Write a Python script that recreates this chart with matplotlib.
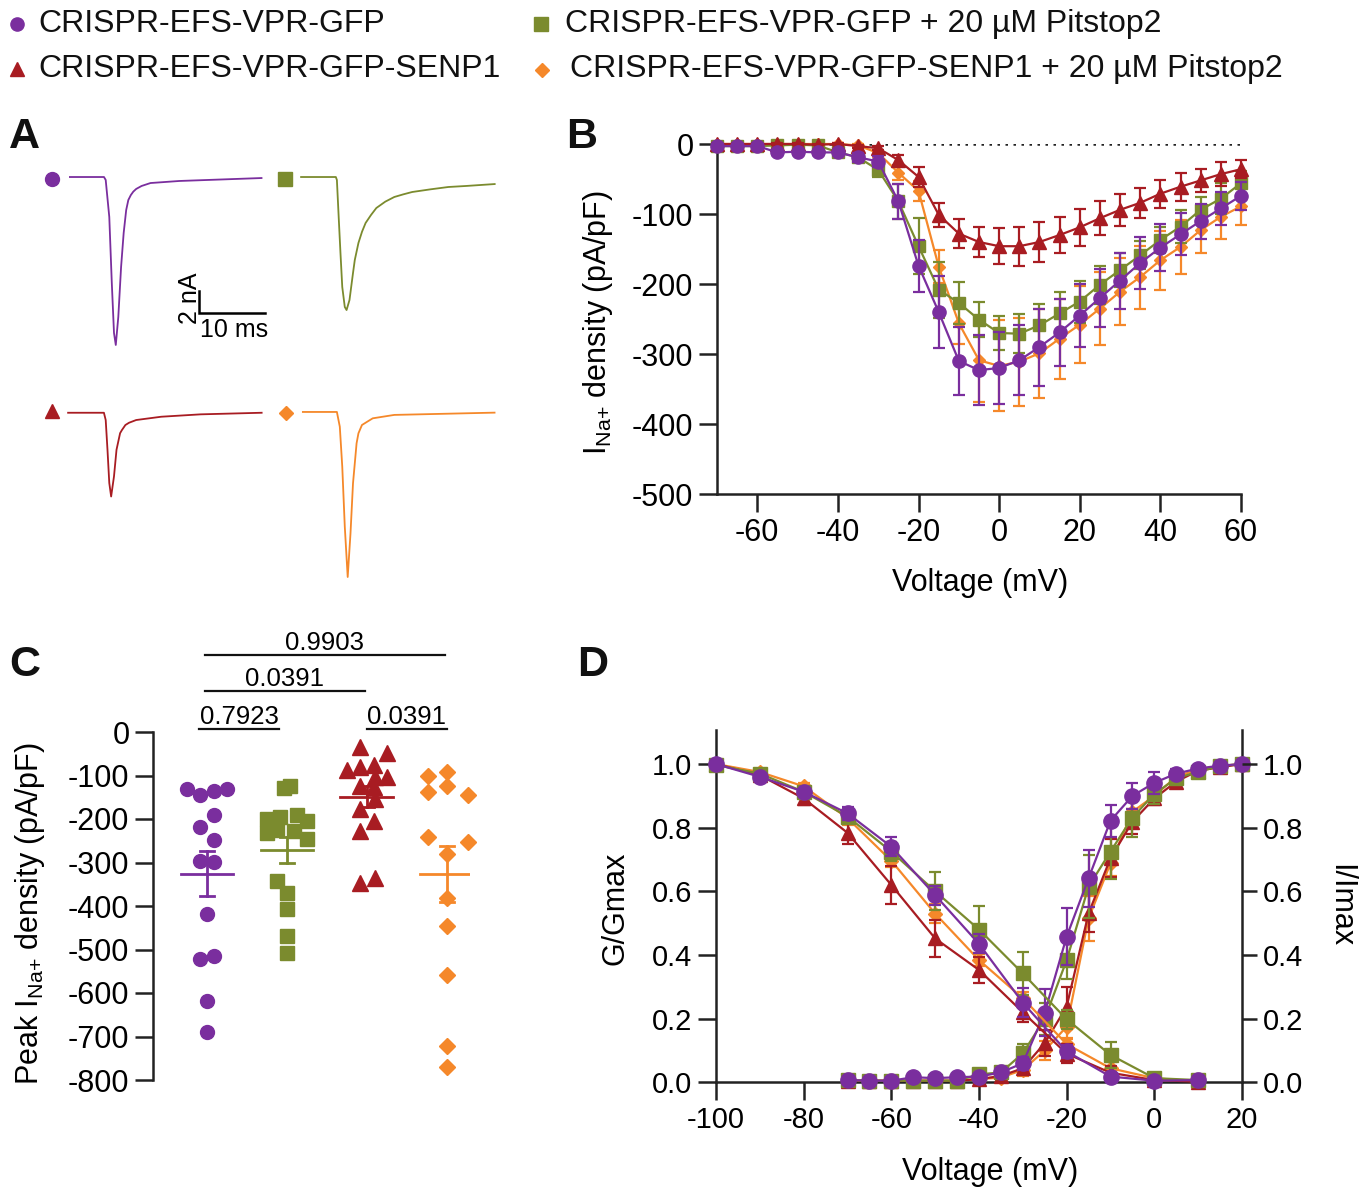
import numpy as np
import matplotlib
matplotlib.use("Agg")
import matplotlib.pyplot as plt
from matplotlib.lines import Line2D
from matplotlib.ticker import FormatStrFormatter

plt.rcParams['font.family'] = ['Liberation Sans', 'DejaVu Sans']
plt.rcParams['mathtext.default'] = 'regular'
plt.rcParams['axes.unicode_minus'] = False

# ---------------- groups ----------------
group_names = ["CRISPR-EFS-VPR-GFP",
               "CRISPR-EFS-VPR-GFP + 20 µM Pitstop2",
               "CRISPR-EFS-VPR-GFP-SENP1",
               "CRISPR-EFS-VPR-GFP-SENP1 + 20 µM Pitstop2"]
group_colors = ['#7A2E9E', '#7B8B2E', '#A81C22', '#F5882A']
group_markers = ['o', 's', '^', 'D']

# ---------------- panel A: representative traces (ms, nA) ----------------
trace_t_gfp = [0, 5.14, 5.40, 5.94, 6.32, 6.65, 6.92, 7.30, 7.72, 8.11, 8.49, 8.81, 9.19, 9.56, 10.0,
               10.81, 12.16, 16.49, 28.9]
trace_i_gfp = [0, 0, -0.26, -3.52, -9.34, -13.74, -14.80, -12.33, -7.93, -4.93, -2.91, -2.03, -1.59, -1.29,
               -1.05, -0.79, -0.53, -0.35, -0.09]
trace_t_pit = [0, 5.24, 5.40, 5.67, 5.94, 6.21, 6.59, 6.86, 7.30, 7.83, 8.10, 8.65, 9.19, 9.73, 10.54,
               11.35, 12.70, 14.06, 15.40, 16.76, 19.46, 22.2, 24.86, 29.2]
trace_i_pit = [0, 0, -0.26, -3.52, -6.70, -9.69, -11.45, -11.72, -10.84, -8.46, -7.31, -5.81, -4.82, -4.05,
               -3.35, -2.73, -2.17, -1.76, -1.53, -1.32, -1.09, -0.88, -0.79, -0.62]
trace_t_senp = [0, 5.40, 5.67, 5.94, 6.21, 6.49, 6.92, 7.30, 7.84, 8.11, 8.64, 9.19, 10.27, 14.06, 20.0, 29.19]
trace_i_senp = [0, 0, -0.64, -3.28, -6.19, -7.38, -5.61, -3.26, -1.80, -1.53, -1.08, -0.88, -0.64, -0.35,
                -0.14, 0]
trace_t_senppit = [0, 5.13, 5.57, 5.94, 6.32, 6.76, 7.18, 7.56, 8.10, 8.38, 8.91, 9.73, 10.54, 13.79, 28.91]
trace_i_senppit = [0, 0, -1.30, -4.82, -10.1, -14.54, -10.72, -6.29, -2.76, -1.88, -1.15, -0.85, -0.56,
                   -0.26, -0.06]
scalebar_ms = 10
scalebar_na = 2

# ---------------- panel B: I-V (pA/pF) ----------------
iv_v = [-70, -65, -60, -55, -50, -45, -40, -35, -30, -25, -20, -15, -10, -5, 0,
        5, 10, 15, 20, 25, 30, 35, 40, 45, 50, 55, 60]
iv_gfp = [-3, -3, -3, -12, -11, -12, -12, -19, -25, -82, -174, -240, -310, -323, -320,
          -309, -290, -269, -245, -220, -195, -170, -148, -129, -110, -92, -74]
iv_gfp_err = [2, 2, 2, 3, 3, 4, 4, 6, 8, 25, 37, 52, 48, 50, 52,
              50, 55, 48, 45, 41, 40, 37, 34, 30, 25, 24, 20]
iv_pit = [-3, -3, -3, -2, -1, -2, -12, -19, -37, -82, -146, -208, -227, -251, -270,
          -271, -259, -242, -225, -201, -180, -159, -137, -118, -94, -78, -56]
iv_pit_err = [2, 2, 2, 2, 2, 2, 4, 6, 10, 25, 40, 40, 30, 25, 24,
              28, 30, 30, 30, 27, 24, 20, 19, 24, 19, 22, 17]
iv_senp = [0, 0, 0, 0, 0, -1, 0, -3, -6, -23, -47, -101, -128, -140, -146,
           -146, -140, -130, -119, -106, -94, -84, -71, -61, -52, -43, -36]
iv_senp_err = [1, 1, 1, 1, 1, 1, 1, 2, 3, 7, 14, 17, 21, 22, 26,
               28, 28, 26, 26, 24, 23, 21, 20, 20, 17, 17, 13]
iv_senppit = [0, 0, 0, 0, 0, 0, 0, -2, -13, -41, -67, -175, -256, -309, -317,
              -311, -299, -278, -258, -235, -211, -190, -166, -147, -123, -104, -89]
iv_senppit_err = [1, 1, 1, 1, 1, 1, 1, 2, 5, 10, 14, 24, 30, 60, 65,
                  63, 64, 57, 55, 52, 48, 45, 42, 38, 33, 31, 26]

# ---------------- panel C: peak density per cell (pA/pF) ----------------
peak_gfp = [-131, -145, -135, -131, -190, -219, -248, -296, -298, -419, -521, -515, -619, -690]
peak_pit = [-129, -125, -200, -195, -190, -205, -232, -226, -228, -246, -342, -369, -408, -469, -508]
peak_senp = [-35, -48, -88, -81, -75, -104, -104, -123, -127, -154, -177, -204, -227, -346, -335]
peak_senppit = [-102, -91, -137, -125, -144, -242, -252, -281, -381, -445, -559, -721, -769]
# horizontal scatter (swarm) offsets, in category units
jit_gfp = [-0.25, -0.083, 0.083, 0.25, 0.083, -0.083, 0.083, -0.083, 0.083, 0, -0.083, 0.083, 0, 0]
jit_pit = [-0.04, 0.04, -0.25, -0.083, 0.125, 0.25, -0.25, -0.125, 0.083, 0.25, -0.125, 0, 0, 0, 0]
jit_senp = [-0.083, 0.25, -0.25, -0.083, 0.083, 0.104, 0.25, -0.083, 0.083, 0.104, -0.083, 0.083, -0.083, -0.083, 0.104]
jit_senppit = [-0.24, 0, -0.24, 0, 0.26, -0.24, 0.26, 0, 0, 0, 0, 0, 0]
p_labels = ['0.7923', '0.0391', '0.0391', '0.9903']
p_pairs = [(0, 1), (2, 3), (0, 2), (0, 3)]

# ---------------- panel D: activation / inactivation ----------------
inact_v = [-100, -90, -80, -70, -60, -50, -40, -30, -20, -10, 0, 10]
inact_gfp = [1.0, 0.96, 0.913, 0.845, 0.74, 0.588, 0.435, 0.25, 0.097, 0.018, 0.005, 0.007]
inact_gfp_err = [0, 0.01, 0.01, 0.02, 0.03, 0.03, 0.03, 0.045, 0.02, 0.01, 0.005, 0.005]
inact_pit = [0.997, 0.97, 0.913, 0.835, 0.725, 0.6, 0.48, 0.342, 0.198, 0.086, 0.013, 0.007]
inact_pit_err = [0, 0.01, 0.015, 0.02, 0.03, 0.06, 0.075, 0.067, 0.03, 0.04, 0.01, 0.005]
inact_senp = [1.0, 0.965, 0.892, 0.784, 0.62, 0.452, 0.353, 0.22, 0.09, 0.03, 0.007, 0.002]
inact_senp_err = [0, 0.01, 0.02, 0.035, 0.06, 0.058, 0.04, 0.03, 0.03, 0.02, 0.005, 0.002]
inact_senppit = [1.0, 0.975, 0.93, 0.83, 0.696, 0.53, 0.384, 0.264, 0.12, 0.044, 0.013, 0.002]
inact_senppit_err = [0, 0.01, 0.01, 0.02, 0.02, 0.03, 0.02, 0.02, 0.02, 0.02, 0.01, 0.002]

act_v = [-70, -65, -60, -55, -50, -45, -40, -35, -30, -25, -20, -15, -10, -5, 0, 5, 10, 15, 20]
act_gfp = [0.007, 0.005, 0.005, 0.016, 0.013, 0.016, 0.018, 0.031, 0.06, 0.219, 0.458, 0.641,
           0.822, 0.9, 0.941, 0.97, 0.986, 0.995, 1.0]
act_gfp_err = [0.005, 0.005, 0.005, 0.005, 0.005, 0.005, 0.008, 0.01, 0.02, 0.075, 0.09, 0.09,
               0.05, 0.04, 0.035, 0.015, 0.01, 0.005, 0]
act_pit = [0.007, 0.005, 0.005, 0.005, 0.005, 0.005, 0.025, 0.031, 0.091, 0.2, 0.384, 0.615,
           0.725, 0.832, 0.906, 0.955, 0.976, 0.994, 1.0]
act_pit_err = [0.005, 0.005, 0.005, 0.005, 0.005, 0.005, 0.01, 0.01, 0.03, 0.05, 0.06, 0.1,
               0.085, 0.06, 0.03, 0.015, 0.01, 0.005, 0]
act_senp = [0.005, 0.005, 0.005, 0.005, 0.005, 0.005, 0.01, 0.02, 0.044, 0.123, 0.238, 0.531,
            0.704, 0.819, 0.892, 0.945, 0.979, 0.99, 1.0]
act_senp_err = [0.005, 0.005, 0.005, 0.005, 0.005, 0.005, 0.01, 0.01, 0.02, 0.04, 0.06, 0.06,
                0.06, 0.04, 0.02, 0.015, 0.01, 0.005, 0]
act_senppit = [0.005, 0.005, 0.005, 0.005, 0.005, 0.005, 0.01, 0.015, 0.039, 0.1, 0.175, 0.515,
               0.688, 0.85, 0.9, 0.96, 0.983, 0.994, 1.0]
act_senppit_err = [0.005, 0.005, 0.005, 0.005, 0.005, 0.005, 0.01, 0.01, 0.02, 0.03, 0.04, 0.07,
                   0.04, 0.03, 0.02, 0.01, 0.01, 0.005, 0]

# ---------------- figure ----------------
W, H = 1368, 1193
fig = plt.figure(figsize=(W / 100, H / 100), dpi=100)


def fx(x):
    return x / W


def fy(y):
    return 1 - y / H


TICK = dict(direction='out', length=13, width=1.8, labelsize=22, pad=4, color='#222222')
LW = 1.8
SUB = r'$I_{Na{+}}$'

# legend (top)
leg_pos = [(17, 24, 38, 32), (541, 24, 565, 32), (17, 69, 38, 77), (542, 70, 570, 77)]
leg_ms = [9.5, 10.5, 10.5, 7.5]
for k in range(4):
    mx, my, tx, ty = leg_pos[k]
    fig.add_artist(Line2D([fx(mx)], [fy(my)], transform=fig.transFigure, marker=group_markers[k],
                          ms=leg_ms[k], color=group_colors[k], mec=group_colors[k], ls='none'))
    fig.text(fx(tx), fy(ty), group_names[k], fontsize=23, va='baseline', ha='left', color='#111111')

# panel letters
for letter, (lx, ly) in zip('ABCD', [(9, 148), (566, 148), (9, 676), (577, 676)]):
    fig.text(fx(lx), fy(ly), letter, fontsize=31, fontweight='bold', va='baseline', ha='left', color='#111111')

# ---------------- Panel A ----------------
PX_MS, PX_NA = 6.63, 11.35
axA = fig.add_axes([fx(40), fy(590), fx(480), 440 / H])
axA.set_xlim(0, 480 / PX_MS)
axA.set_ylim(-440 / PX_NA, 0)
axA.axis('off')
traces = [(trace_t_gfp, trace_i_gfp), (trace_t_pit, trace_i_pit),
          (trace_t_senp, trace_i_senp), (trace_t_senppit, trace_i_senppit)]
trace_origin = [(4.51, -2.38), (39.38, -2.38), (4.24, -23.15), (39.65, -23.08)]
trace_marker = [(1.81, -2.55), (36.95, -2.55), (1.81, -23.0), (37.06, -23.13)]
A_ms = [10, 10.5, 10.5, 7.5]
for k in range(4):
    t, i = traces[k]
    ox, oy = trace_origin[k]
    axA.plot(np.asarray(t) + ox, np.asarray(i) + oy, color=group_colors[k], lw=1.3,
             solid_joinstyle='round')
    mx, my = trace_marker[k]
    axA.plot([mx], [my], marker=group_markers[k], ms=A_ms[k], color=group_colors[k], ls='none')
# scale bar
sx, sy = 23.98, -14.39
axA.plot([sx, sx, sx + scalebar_ms], [sy + scalebar_na, sy, sy], color='black', lw=1.8,
         solid_joinstyle='miter')
axA.text(sx - 1.35, sy + scalebar_na / 2 + 0.3, f'{scalebar_na} nA', rotation=90, ha='center', va='center',
         fontsize=18)
axA.text(sx + scalebar_ms / 2 + 0.3, sy - 1.5, f'{scalebar_ms} ms', ha='center', va='center', fontsize=18)


def style_axes(ax):
    for s in ['top', 'right']:
        ax.spines[s].set_visible(False)
    for s in ['left', 'bottom']:
        ax.spines[s].set_linewidth(LW)
        ax.spines[s].set_color('#222222')
    ax.tick_params(**TICK)


def draw_series(ax, x, y, e, k, ms, z):
    eb = ax.errorbar(x, y, yerr=e, fmt='-', marker=group_markers[k], ms=ms, color=group_colors[k],
                     mfc=group_colors[k], mec=group_colors[k], lw=1.6, elinewidth=1.6, capsize=4.5,
                     capthick=1.6, zorder=z)
    for art in [eb.lines[0], *eb.lines[1], *eb.lines[2]]:
        art.set_clip_on(False)


# ---------------- Panel B ----------------
axB = fig.add_axes([fx(717), fy(494), fx(524), 350 / H])
style_axes(axB)
axB.set_xlim(-70, 60)
axB.set_ylim(-500, 0)
axB.set_xticks([-60, -40, -20, 0, 20, 40, 60])
axB.set_yticks([0, -100, -200, -300, -400, -500])
axB.plot([-70, 60], [0, 0], color='#222222', lw=1.8, ls=(0, (1, 2.2)), zorder=1)
iv_sets = [(iv_gfp, iv_gfp_err), (iv_pit, iv_pit_err), (iv_senp, iv_senp_err), (iv_senppit, iv_senppit_err)]
B_ms = [9.5, 8.8, 9.5, 6.5]
B_z = [6, 4, 5, 3]
for k in [3, 1, 2, 0]:
    draw_series(axB, iv_v, iv_sets[k][0], iv_sets[k][1], k, B_ms[k], B_z[k])
axB.set_xlabel('Voltage (mV)', fontsize=22)
axB.xaxis.set_label_coords(0.502, -0.254)
axB.xaxis.label.set_va('center')
axB.set_ylabel(SUB + ' density (pA/pF)', fontsize=22)
axB.yaxis.set_label_coords(-0.227, 0.491)
axB.yaxis.label.set_va('center')

# ---------------- Panel C ----------------
axC = fig.add_axes([fx(153), fy(1080), fx(317), 348 / H])
style_axes(axC)
axC.spines['bottom'].set_visible(False)
axC.set_xlim(-0.675, 3.29)
axC.set_ylim(-800, 0)
axC.set_yticks(list(range(0, -801, -100)))
axC.set_xticks([])
peaks = [peak_gfp, peak_pit, peak_senp, peak_senppit]
jits = [jit_gfp, jit_pit, jit_senp, jit_senppit]
C_ms = [10, 10.5, 11, 7.8]
for k in range(4):
    vals = np.asarray(peaks[k], dtype=float)
    xs = k + np.asarray(jits[k])
    axC.plot(xs, vals, marker=group_markers[k], ms=C_ms[k], ls='none', color=group_colors[k],
             mec=group_colors[k], clip_on=False, zorder=3)
    m = vals.mean()
    sem = vals.std(ddof=1) / np.sqrt(len(vals))
    axC.plot([k - 0.33, k + 0.33], [m, m], color=group_colors[k], lw=2, zorder=4)
    axC.plot([k, k], [m - sem, m + sem], color=group_colors[k], lw=2, zorder=4)
    for yy in (m - sem, m + sem):
        axC.plot([k - 0.085, k + 0.085], [yy, yy], color=group_colors[k], lw=2, zorder=4)
bracket_y = [7.8, 7.8, 93.6, 178.1]
bracket_shift = [-0.1, 0.0, -0.025, -0.025]
for (i, j), lab, yb, sh in zip(p_pairs, p_labels, bracket_y, bracket_shift):
    x0, x1 = i + sh, j + sh
    axC.plot([x0, x1], [yb, yb], color='#111111', lw=1.6, clip_on=False)
    axC.text((x0 + x1) / 2, yb + 11, lab, ha='center', va='baseline', fontsize=18.5, clip_on=False)
axC.set_ylabel('Peak ' + SUB + ' density (pA/pF)', fontsize=22)
axC.yaxis.set_label_coords(-0.388, 0.477)
axC.yaxis.label.set_va('center')

# ---------------- Panel D ----------------
axD = fig.add_axes([fx(716), fy(1082.3), fx(526), 352.3 / H])
style_axes(axD)
axD.spines['right'].set_visible(True)
axD.spines['right'].set_linewidth(LW)
axD.spines['right'].set_color('#222222')
axD.set_xlim(-100, 20)
axD.set_ylim(0, 1.107)
axD.set_xticks([-100, -80, -60, -40, -20, 0, 20])
axD.set_yticks([0, 0.2, 0.4, 0.6, 0.8, 1.0])
axD.yaxis.set_major_formatter(FormatStrFormatter('%.1f'))
axD.tick_params(axis='both', labelsize=21)
axD2 = axD.twinx()
axD2.set_ylim(0, 1.107)
for s in ['top', 'left', 'bottom', 'right']:
    axD2.spines[s].set_visible(False)
axD2.set_yticks([0, 0.2, 0.4, 0.6, 0.8, 1.0])
axD2.yaxis.set_major_formatter(FormatStrFormatter('%.1f'))
axD2.tick_params(axis='y', direction='out', length=11, width=1.8, labelsize=21, pad=4, color='#222222')
act_sets = [(act_gfp, act_gfp_err), (act_pit, act_pit_err), (act_senp, act_senp_err), (act_senppit, act_senppit_err)]
inact_sets = [(inact_gfp, inact_gfp_err), (inact_pit, inact_pit_err), (inact_senp, inact_senp_err),
              (inact_senppit, inact_senppit_err)]
D_ms = [11, 10, 10.5, 7.5]
D_z = [6, 5, 4, 3]
for k in [3, 2, 1, 0]:
    draw_series(axD, act_v, act_sets[k][0], act_sets[k][1], k, D_ms[k], D_z[k])
for k in [3, 2, 1, 0]:
    draw_series(axD2, inact_v, inact_sets[k][0], inact_sets[k][1], k, D_ms[k], D_z[k])
axD.set_xlabel('Voltage (mV)', fontsize=22)
axD.xaxis.set_label_coords(0.521, -0.255)
axD.xaxis.label.set_va('center')
axD.set_ylabel('G/Gmax', fontsize=22)
axD.yaxis.set_label_coords(-0.192, 0.495)
axD.yaxis.label.set_va('center')
axD2.set_ylabel('I/Imax', fontsize=22, rotation=270)
axD2.yaxis.set_label_coords(1.186, 0.503)
axD2.yaxis.label.set_va('center')

fig.savefig('out.png', dpi=100)
